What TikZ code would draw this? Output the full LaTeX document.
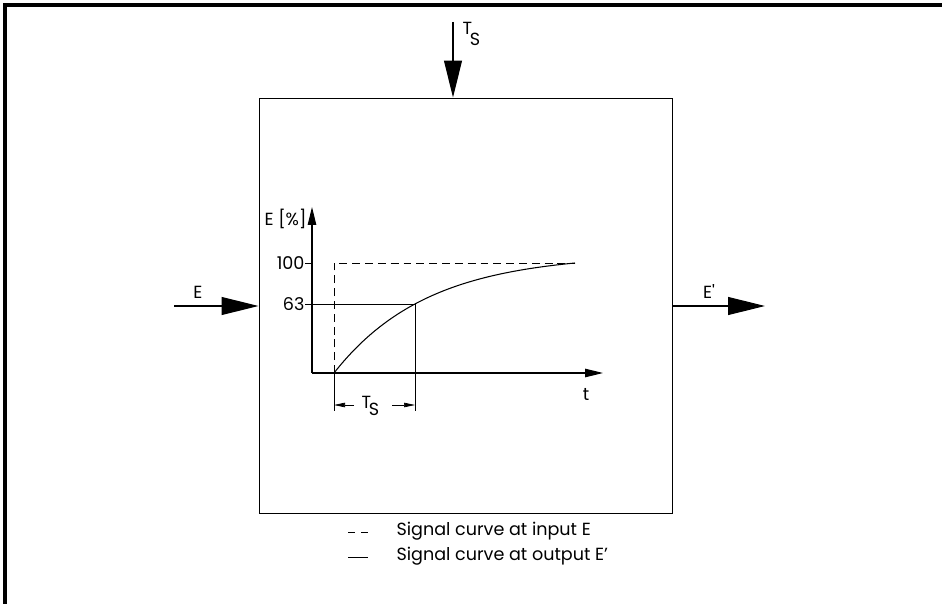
\documentclass[tikz,border=0pt]{standalone}
\usepackage{fontspec}
\setmainfont{Poppins}
\usetikzlibrary{arrows.meta}
\tikzset{
  bigarrow/.style={-{Triangle[length=0.74cm,width=0.36cm]}},
  axisarrow/.style={-{Triangle[length=0.36cm,width=0.17cm]}},
  dimarrow/.style={-{Triangle[length=0.22cm,width=0.09cm]}},
  lbl/.style={inner sep=0pt, font=\fontsize{10}{12}\selectfont},
  guide/.style={line width=0.4pt},
  inputcurve/.style={line width=0.5pt, dash pattern=on 4.5pt off 2.8pt}
}
\newcommand{\tsubs}[1]{T\kern-0.12em\raisebox{-#1}{S}}

\begin{document}
\begin{tikzpicture}[x=0.02cm,y=-0.02cm,line width=0.6pt]
\useasboundingbox (0,0) rectangle (942,604);
% outer frame
\draw[line width=2.2pt] (5,604) -- (5,5) -- (942,5);
% block
\node[draw, line width=0.6pt, minimum width=8.28cm, minimum height=8.32cm, inner sep=0pt] (block) at (466,306) {};
\coordinate (tsin) at (453,22);
\coordinate (ein) at (174,306);
\coordinate (eout) at (765,306);
\draw[bigarrow] (tsin) -- (tsin |- block.north);
\draw[bigarrow] (ein) -- (block.west);
\draw[bigarrow] (block.east) -- (eout);
\node[lbl, anchor=north west] (tstop) at (462,22) {\tsubs{0.62em}};
\node[lbl, anchor=south] (elbl) at (198,299) {E};
\node[lbl, anchor=south] (eplbl) at (709,299) {E\textquotesingle};
% graph
\coordinate (origin) at (312,373);
\coordinate (ytip) at (312,207);
\coordinate (xtip) at (603,373);
\coordinate (start) at (334,373);
\coordinate (final) at (575,263);
\coordinate (tsx) at (415,304);
\draw[axisarrow] (origin) -- (ytip);
\draw[axisarrow] (origin) -- (xtip);
\node[lbl, anchor=east] (ylbl) at (307,219) {E [\%]};
\node[lbl, anchor=north] (xlbl) at (586,388) {t};
\draw[guide] (305,263) -- (origin |- final);
\node[lbl, anchor=east] (hundred) at (305,263) {100};
\node[lbl, anchor=east] (sixtythree) at (305,304) {63};
\draw[guide] (305,304) -- (tsx) -- (415,411);
\draw[inputcurve] (start) -- (start |- final) -- (final);
\draw plot[domain=0:241, samples=80] ({334+\x},{373-119*(1-exp(-\x/93.3))});
% dimension
\draw[guide] (start) -- (334,411);
\coordinate (dimleft) at (334,405);
\coordinate (dimright) at (415,405);
\draw[guide, dimarrow] (354,405) -- (dimleft);
\draw[guide, dimarrow] (392,405) -- (dimright);
\node[lbl, anchor=north west] (tsdim) at (361,396) {\tsubs{0.4em}};
% legend
\draw[guide, dash pattern=on 4pt off 3.3pt] (348,532) -- (368,532);
\draw[guide] (348,557) -- (368,557);
\node[lbl, anchor=west] (leg1) at (396,531) {Signal curve at input E};
\node[lbl, anchor=west] (leg2) at (396,556) {Signal curve at output E'};
\end{tikzpicture}
\end{document}
